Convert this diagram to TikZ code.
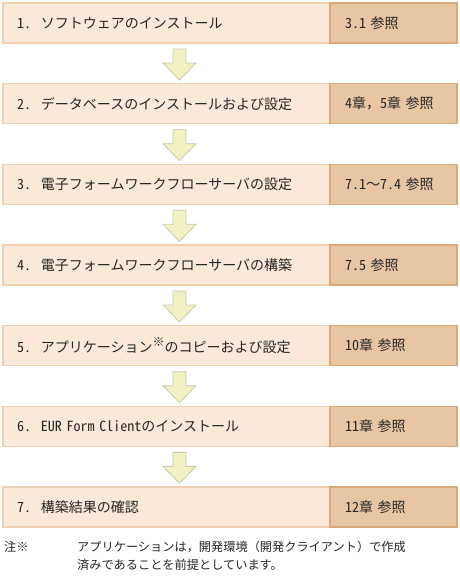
\documentclass[tikz,border=0pt]{standalone}
\usepackage{fontspec}
\setmainfont{Noto Sans CJK JP}
\newfontfamily\hwfont[CharacterWidth=Half]{Noto Sans CJK JP}
\newcommand\hw[1]{{\hwfont #1}}
\usetikzlibrary{positioning,calc}

\definecolor{stepfill}{HTML}{FAE8D8}
\definecolor{stepline}{HTML}{F0D0B0}
\definecolor{reffill}{HTML}{E8C6A4}
\definecolor{refline}{HTML}{D9A97C}
\definecolor{arrowfill}{HTML}{F1F1C4}
\definecolor{arrowline}{HTML}{C9C9AC}
\definecolor{textgray}{HTML}{262626}

\tikzset{
  stepbox/.style={draw=stepline, fill=stepfill, line width=1.4pt, outer sep=0pt,
    text width=299pt, inner xsep=14pt, inner ysep=0pt, minimum height=40pt,
    align=left, text=textgray, font=\fontsize{14}{16}\selectfont},
  refbox/.style={draw=refline, fill=reffill, line width=1.4pt, outer sep=0pt,
    text width=97pt, inner xsep=15pt, inner ysep=0pt, minimum height=40pt,
    align=left, text=textgray, font=\fontsize{14}{16}\selectfont},
  arrowbody/.style={draw=arrowline, fill=arrowfill, line width=0.8pt, line join=miter},
  notetext/.style={inner sep=0pt, text=textgray, align=left,
    font=\fontsize{12.2}{18}\selectfont}
}

% block arrow under a step box
\newcommand\flowarrow[1]{%
  \draw[arrowbody] ($(#1.south west)+(170,6)$) -- ++(13,0) -- ++(0,14)
    -- ++(10,0) -- ++(-16.5,17) -- ++(-16.5,-17) -- ++(10,0) -- cycle;}

\begin{document}
\begin{tikzpicture}[x=1pt, y=-1pt]

  %% ════ steps ════
  \node[stepbox, anchor=north west] (step1) at (3,3)
    {\hw{1.}\hspace{10pt}ソフトウェアのインストール};
  \node[stepbox, below=40.67pt of step1] (step2)
    {\hw{2.}\hspace{10pt}データベースのインストールおよび設定};
  \node[stepbox, below=40.67pt of step2] (step3)
    {\hw{3.}\hspace{10pt}電子フォームワークフローサーバの設定};
  \node[stepbox, below=40.67pt of step3] (step4)
    {\hw{4.}\hspace{10pt}電子フォームワークフローサーバの構築};
  \node[stepbox, below=40.67pt of step4] (step5)
    {\hw{5.}\hspace{10pt}アプリケーション\raisebox{5.5pt}{\fontsize{12}{12}\selectfont ※}のコピーおよび設定};
  \node[stepbox, below=40.67pt of step5] (step6)
    {\hw{6.}\hspace{10pt}\hw{EUR Form Client}のインストール};
  \node[stepbox, below=40.67pt of step6] (step7)
    {\hw{7.}\hspace{10pt}構築結果の確認};

  %% ════ references ════
  \node[refbox, right=0pt of step1] (ref1) {\hw{3.1 }参照};
  \node[refbox, right=0pt of step2] (ref2) {\hw{4}章，\hw{5}章\hw{ }参照};
  \node[refbox, right=0pt of step3] (ref3) {\hw{7.1}～\hw{7.4 }参照};
  \node[refbox, right=0pt of step4] (ref4) {\hw{7.5 }参照};
  \node[refbox, right=0pt of step5] (ref5) {\hw{10}章\hw{ }参照};
  \node[refbox, right=0pt of step6] (ref6) {\hw{11}章\hw{ }参照};
  \node[refbox, right=0pt of step7] (ref7) {\hw{12}章\hw{ }参照};

  %% ════ arrows ════
  \foreach \s in {step1,step2,step3,step4,step5,step6}
    {\flowarrow{\s}}

  %% ════ note ════
  \node[notetext, anchor=north west] (notemark) at (4,541) {注※};
  \node[notetext, anchor=north west] (notebody) at (77,541)
    {アプリケーションは，開発環境（開発クライアント）で作成\\
     済みであることを前提としています。};

  \pgfresetboundingbox
  \path[use as bounding box] (0,0) rectangle (460,579);
\end{tikzpicture}
\end{document}
